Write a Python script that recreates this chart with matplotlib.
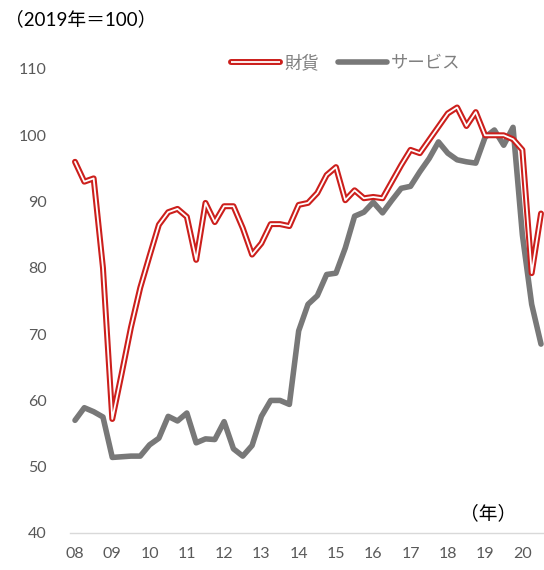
import matplotlib
matplotlib.use("Agg")
import matplotlib.pyplot as plt
from matplotlib.lines import Line2D
from matplotlib.legend_handler import HandlerTuple

plt.rcParams['font.family'] = ['Lato', 'Noto Sans CJK JP', 'DejaVu Sans']

year_labels = ["08", "09", "10", "11", "12", "13", "14", "15", "16", "17", "18", "19", "20"]

# quarterly, 2008Q1 - 2020Q3
goods = [96.0, 93.0, 93.5, 80.0, 57.2, 64.0, 71.0, 77.0,
         81.8, 86.5, 88.4, 88.9, 87.7, 81.2, 89.8, 86.9,
         89.3, 89.3, 86.0, 82.0, 83.7, 86.6, 86.6, 86.3,
         89.5, 89.8, 91.3, 94.0, 95.2, 90.2, 91.7, 90.5,
         90.7, 90.5, 93.0, 95.5, 97.8, 97.3, 99.3, 101.3,
         103.3, 104.2, 101.4, 103.5, 100.0, 100.0, 100.0, 99.4,
         97.8, 79.2, 88.2]

services = [57.0, 58.9, 58.3, 57.5, 51.4, 51.5, 51.6, 51.6,
            53.3, 54.3, 57.6, 56.9, 58.1, 53.6, 54.2, 54.1,
            56.8, 52.7, 51.6, 53.2, 57.6, 60.0, 60.0, 59.4,
            70.5, 74.5, 75.8, 79.0, 79.2, 83.0, 87.8, 88.4,
            89.9, 88.3, 90.2, 92.0, 92.3, 94.5, 96.5, 99.0,
            97.3, 96.3, 96.0, 95.8, 99.7, 100.8, 98.5, 101.2,
            85.0, 74.5, 68.5]

RED = "#CC1F1C"
GRAY = "#787878"
TXT = "#595959"

fig = plt.figure(figsize=(5.44, 5.70), dpi=100)
step = 9.32
left_px = 75 - step / 2
ax = fig.add_axes([left_px/544, 37/570, 51*step/544, (533-69)/570])

x = list(range(len(goods)))
xs = list(range(len(services)))

ax.plot(xs, services, color=GRAY, lw=4.0, solid_joinstyle='round', solid_capstyle='round', zorder=3)
ax.plot(x, goods, color=RED, lw=4.3, solid_joinstyle='round', solid_capstyle='round', zorder=4)
ax.plot(x, goods, color="white", lw=1.3, solid_joinstyle='round', solid_capstyle='round', zorder=5)

ax.set_xlim(-0.5, 50.5)
ax.set_ylim(40, 110)
ax.set_yticks(range(40, 111, 10))
ax.set_xticks(range(0, 51, 4))
ax.set_xticklabels(year_labels)
for s in ["top", "right", "left"]:
    ax.spines[s].set_visible(False)
ax.spines["bottom"].set_color("#D9D9D9")
ax.spines["bottom"].set_linewidth(1.0)
ax.tick_params(axis="both", length=0, labelsize=11.5, colors=TXT)
ax.tick_params(axis="y", pad=17)
ax.tick_params(axis="x", pad=10)

h_red = (Line2D([], [], color=RED, lw=4.3, solid_capstyle='round'),
         Line2D([], [], color="white", lw=1.3, solid_capstyle='butt'))
h_gray = Line2D([], [], color=GRAY, lw=4.0, solid_capstyle='round')
leg = fig.legend([h_red, h_gray], ["財貨", "サービス"],
                 handler_map={tuple: HandlerTuple(ndivide=1, pad=0)},
                 loc="center", bbox_to_anchor=(346/544, 1 - 63/570), ncol=2,
                 frameon=False, fontsize=12.5, handlelength=2.8, handletextpad=0.25,
                 columnspacing=1.1, labelcolor="#7F7F7F")

fig.text(5/544, 1 - 19/570, "（2019年＝100）", fontsize=13.5, color="black", va="center", ha="left")
fig.text(488/544, 1 - 513/570, "（年）", fontsize=13.5, color="black", va="center", ha="center")

fig.savefig("out.png", dpi=100)
